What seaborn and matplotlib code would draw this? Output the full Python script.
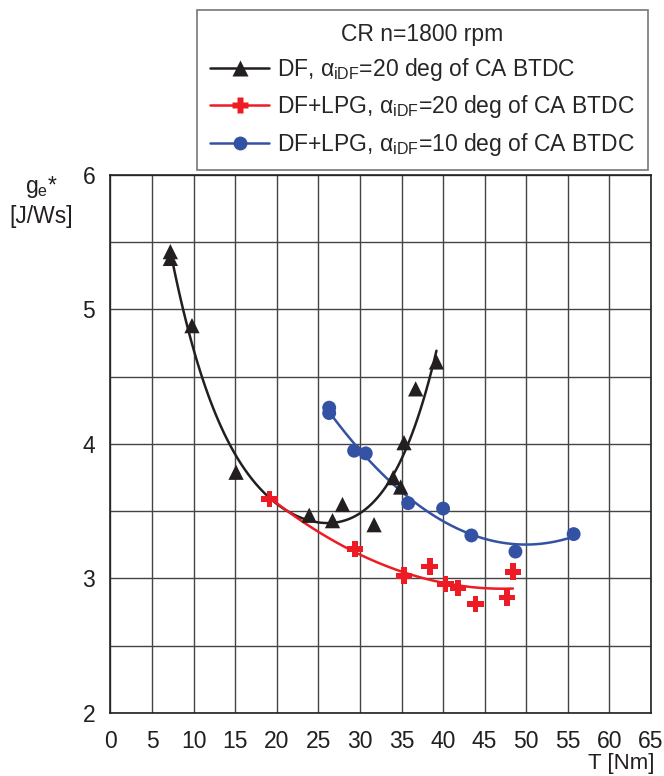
import numpy as np
import pandas as pd
import matplotlib
matplotlib.use("Agg")
import matplotlib.pyplot as plt
import seaborn as sns
from matplotlib.lines import Line2D
from matplotlib.ticker import MultipleLocator

sns.set_theme(style="white")
plt.rcParams['font.family'] = ['Liberation Sans', 'DejaVu Sans']
plt.rcParams['mathtext.fontset'] = 'custom'
plt.rcParams['mathtext.rm'] = 'Liberation Sans'
plt.rcParams['mathtext.it'] = 'Liberation Sans'

# Data
df_T = [7.2, 7.2, 9.8, 15.1, 23.9, 26.7, 27.9, 31.7, 34.0, 34.9, 35.3, 36.7, 39.2]
df_g = [5.43, 5.38, 4.88, 3.79, 3.47, 3.43, 3.55, 3.40, 3.75, 3.68, 4.01, 4.41, 4.61]

lpg20_T = [19.1, 29.4, 35.3, 38.4, 40.3, 41.8, 43.9, 47.7, 48.4]
lpg20_g = [3.59, 3.22, 3.02, 3.09, 2.96, 2.93, 2.81, 2.86, 3.05]

lpg10_T = [26.3, 26.3, 29.3, 30.7, 35.8, 40.0, 43.4, 48.7, 55.7]
lpg10_g = [4.27, 4.23, 3.95, 3.93, 3.56, 3.52, 3.32, 3.20, 3.33]

legend_title = "CR n=1800 rpm"
labels = [r"DF, $\alpha_{\mathrm{iDF}}$=20 deg of CA BTDC",
          r"DF+LPG, $\alpha_{\mathrm{iDF}}$=20 deg of CA BTDC",
          r"DF+LPG, $\alpha_{\mathrm{iDF}}$=10 deg of CA BTDC"]

c_black = '#231f20'
c_red = '#ed1c24'
c_blue = '#3452a4'

fig = plt.figure(figsize=(6.64, 7.76), dpi=100)
ax = fig.add_axes([0.1664, 0.0812, 0.814, 0.6933])

series = [
    (df_T, df_g, c_black, '^', 11, 4),
    (lpg20_T, lpg20_g, c_red, 'P', 12, 2),
    (lpg10_T, lpg10_g, c_blue, 'o', 10, 2),
]
for T, g, c, m, ms, order in series:
    d = pd.DataFrame({'T': T, 'g': g})
    sns.regplot(data=d, x='T', y='g', order=order, ci=None, scatter=False,
                truncate=True, ax=ax, line_kws=dict(color=c, lw=1.8))
    sns.scatterplot(data=d, x='T', y='g', marker=m, color=c, s=ms**2,
                    edgecolor='none', ax=ax, zorder=5)

ax.set_xlim(0, 65)
ax.set_ylim(2, 6)
ax.xaxis.set_major_locator(MultipleLocator(5))
ax.yaxis.set_major_locator(MultipleLocator(1))
ax.yaxis.set_minor_locator(MultipleLocator(0.5))
ax.grid(True, which='both', color='#444444', lw=1.0)
ax.set_axisbelow(True)
ax.tick_params(axis='both', which='both', length=0, labelsize=16.5, colors='#231f20')
ax.tick_params(axis='x', pad=12.5)
ax.tick_params(axis='y', pad=11)
ax.set_xlabel('')
ax.set_ylabel('')
for s in ax.spines.values():
    s.set_color('#231f20')
    s.set_linewidth(1.2)

fig.text(0.985, 1 - 764 / 776, 'T [Nm]', fontsize=16, ha='right', va='center',
         color='#231f20')
fig.text(0.062, 1 - 201 / 776, r'g$_\mathrm{e}$*' + '\n[J/Ws]', fontsize=16.5,
         ha='center', va='center', color='#231f20', linespacing=1.3)

handles = [Line2D([], [], color=c, marker=m, markersize=ms, lw=1.8,
                  markeredgecolor='none') for _, _, c, m, ms, _ in series]
leg = fig.legend(handles, labels, title=legend_title, loc='upper left',
                 bbox_to_anchor=(0.297, 0.987), borderaxespad=0,
                 fontsize=16.5, title_fontsize=16.5,
                 frameon=True, fancybox=False, edgecolor='#555555',
                 handlelength=2.6, handletextpad=0.35, borderpad=0.55,
                 labelspacing=0.45)
leg.get_frame().set_linewidth(1.2)

fig.savefig('out.png', dpi=100)
